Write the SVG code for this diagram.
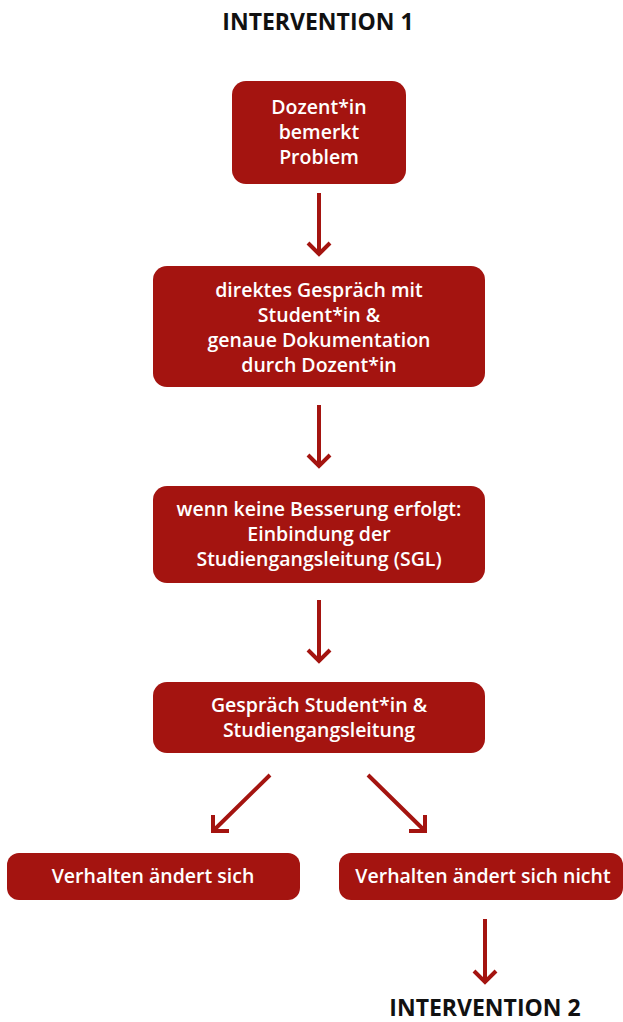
<svg xmlns="http://www.w3.org/2000/svg" width="623" height="1022" viewBox="0 0 623 1022">
<style>
.box{fill:#a41410}
.t{fill:#ffffff;font-family:"Open Sans","Noto Sans",sans-serif;font-weight:600;font-size:19.5px;text-anchor:middle}
.h{fill:#111111;font-family:"Open Sans","Noto Sans",sans-serif;font-weight:700;font-size:23px;text-anchor:middle}
.c{stroke:#a41410;stroke-width:4;fill:none}
</style>
<rect width="623" height="1022" fill="#ffffff"/>
<g id="title1"><text class="h" x="318" y="30">INTERVENTION 1</text></g>
<g id="n1"><rect class="box" x="232" y="81" width="174" height="103" rx="14"/>
<text class="t" x="319" y="114">Dozent*in</text><text class="t" x="319" y="139">bemerkt</text><text class="t" x="319" y="164">Problem</text></g>
<g id="n2"><rect class="box" x="153" y="266" width="332" height="121" rx="14"/>
<text class="t" x="319" y="297">direktes Gespräch mit</text><text class="t" x="319" y="322">Student*in &amp;</text><text class="t" x="319" y="347">genaue Dokumentation</text><text class="t" x="319" y="372">durch Dozent*in</text></g>
<g id="n3"><rect class="box" x="153" y="486" width="332" height="97" rx="14"/>
<text class="t" x="319" y="516">wenn keine Besserung erfolgt:</text><text class="t" x="319" y="541">Einbindung der</text><text class="t" x="319" y="566">Studiengangsleitung (SGL)</text></g>
<g id="n4"><rect class="box" x="153" y="682" width="332" height="71" rx="14"/>
<text class="t" x="319" y="712">Gespräch Student*in &amp;</text><text class="t" x="319" y="737">Studiengangsleitung</text></g>
<g id="n5"><rect class="box" x="7" y="853" width="293" height="47" rx="12"/>
<text class="t" x="153" y="883">Verhalten ändert sich</text></g>
<g id="n6"><rect class="box" x="339" y="853" width="284" height="47" rx="12"/>
<text class="t" x="483" y="883">Verhalten ändert sich nicht</text></g>
<g id="title2"><text class="h" x="485" y="1016">INTERVENTION 2</text></g>
<g id="connectors">
<path class="c" d="M319 193V255M308 243L319 254L330 243"/>
<path class="c" d="M319 405V467M308 455L319 466L330 455"/>
<path class="c" d="M319 600V662M308 650L319 661L330 650"/>
<path class="c" d="M270 775L213 831M213 815V831H229"/>
<path class="c" d="M368 775L425 831M425 815V831H409"/>
<path class="c" d="M485 919V983M474 971L485 982L496 971"/>
</g>
</svg>
